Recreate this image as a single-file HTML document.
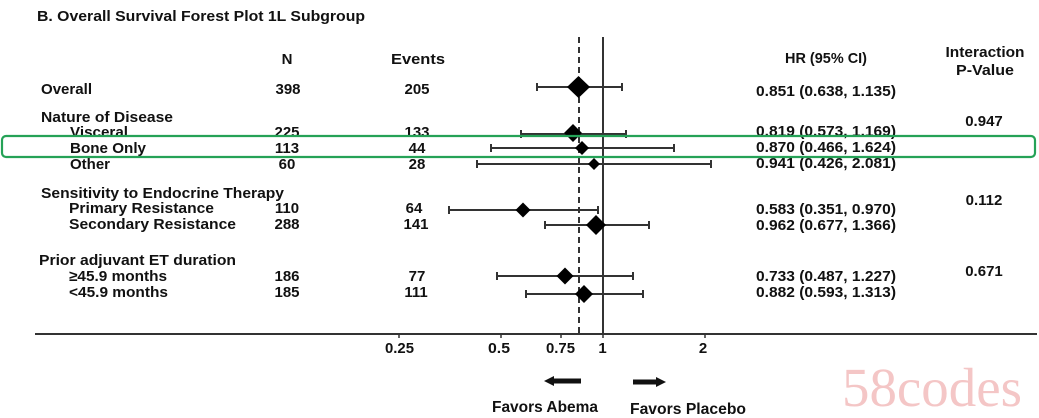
<!DOCTYPE html>
<html>
<head>
<meta charset="utf-8">
<style>
  html, body { margin:0; padding:0; background:#fff; }
  svg { display:block; }
  text { font-family: "Liberation Sans", Arial, sans-serif; font-weight: bold; fill:#111; }
  .wm { font-family: "Liberation Serif", "Times New Roman", serif; font-weight: normal; fill:#f4c6c6; }
</style>
</head>
<body>
<svg width="1039" height="418" viewBox="0 0 1039 418" xmlns="http://www.w3.org/2000/svg">
  <rect width="1039" height="418" fill="#fff"/>

  <!-- Title -->
  <text x="37" y="21" font-size="14.5" textLength="328" lengthAdjust="spacingAndGlyphs">B. Overall  Survival Forest Plot 1L Subgroup</text>

  <!-- Headers -->
  <text x="287" y="64" font-size="15" text-anchor="middle">N</text>
  <text x="418" y="64" font-size="15" text-anchor="middle" textLength="54" lengthAdjust="spacingAndGlyphs">Events</text>
  <text x="826" y="63" font-size="15" text-anchor="middle" textLength="82" lengthAdjust="spacingAndGlyphs">HR (95% CI)</text>
  <text x="985" y="57" font-size="15" text-anchor="middle" textLength="79" lengthAdjust="spacingAndGlyphs">Interaction</text>
  <text x="985" y="75" font-size="15" text-anchor="middle" textLength="58" lengthAdjust="spacingAndGlyphs">P-Value</text>

  <!-- Reference lines -->
  <line x1="603" y1="37" x2="603" y2="334" stroke="#333" stroke-width="2"/>
  <line x1="579" y1="37" x2="579" y2="334" stroke="#333" stroke-width="2" stroke-dasharray="6,4"/>

  <!-- Labels -->
  <g font-size="15">
    <text x="41" y="94" textLength="51" lengthAdjust="spacingAndGlyphs">Overall</text>
    <text x="41" y="122" textLength="132" lengthAdjust="spacingAndGlyphs">Nature of Disease</text>
    <text x="70" y="137" textLength="58" lengthAdjust="spacingAndGlyphs">Visceral</text>
    <text x="70" y="153" textLength="76" lengthAdjust="spacingAndGlyphs">Bone Only</text>
    <text x="70" y="169" textLength="40" lengthAdjust="spacingAndGlyphs">Other</text>
    <text x="41" y="198" textLength="243" lengthAdjust="spacingAndGlyphs">Sensitivity to Endocrine Therapy</text>
    <text x="69" y="213" textLength="145" lengthAdjust="spacingAndGlyphs">Primary Resistance</text>
    <text x="69" y="229" textLength="167" lengthAdjust="spacingAndGlyphs">Secondary Resistance</text>
    <text x="39" y="265" textLength="197" lengthAdjust="spacingAndGlyphs">Prior adjuvant ET duration</text>
    <text x="69" y="281" textLength="98" lengthAdjust="spacingAndGlyphs">≥45.9 months</text>
    <text x="69" y="297" textLength="99" lengthAdjust="spacingAndGlyphs">&lt;45.9 months</text>
  </g>

  <!-- N column -->
  <g font-size="15" text-anchor="middle">
    <text x="288" y="94">398</text>
    <text x="287" y="137">225</text>
    <text x="287" y="153">113</text>
    <text x="287" y="169">60</text>
    <text x="287" y="213">110</text>
    <text x="287" y="229">288</text>
    <text x="287" y="281">186</text>
    <text x="287" y="297">185</text>
  </g>

  <!-- Events column -->
  <g font-size="15" text-anchor="middle">
    <text x="417" y="94">205</text>
    <text x="417" y="137">133</text>
    <text x="417" y="153">44</text>
    <text x="417" y="169">28</text>
    <text x="414" y="213">64</text>
    <text x="416" y="229">141</text>
    <text x="417" y="281">77</text>
    <text x="416" y="297">111</text>
  </g>

  <!-- HR column -->
  <g font-size="15">
    <text x="756" y="96" textLength="140" lengthAdjust="spacingAndGlyphs">0.851 (0.638, 1.135)</text>
    <text x="756" y="136" textLength="140" lengthAdjust="spacingAndGlyphs">0.819 (0.573, 1.169)</text>
    <text x="756" y="152" textLength="140" lengthAdjust="spacingAndGlyphs">0.870 (0.466, 1.624)</text>
    <text x="756" y="168" textLength="140" lengthAdjust="spacingAndGlyphs">0.941 (0.426, 2.081)</text>
    <text x="756" y="214" textLength="140" lengthAdjust="spacingAndGlyphs">0.583 (0.351, 0.970)</text>
    <text x="756" y="230" textLength="140" lengthAdjust="spacingAndGlyphs">0.962 (0.677, 1.366)</text>
    <text x="756" y="281" textLength="140" lengthAdjust="spacingAndGlyphs">0.733 (0.487, 1.227)</text>
    <text x="756" y="297" textLength="140" lengthAdjust="spacingAndGlyphs">0.882 (0.593, 1.313)</text>
  </g>

  <!-- P values -->
  <g font-size="15" text-anchor="middle">
    <text x="984" y="126">0.947</text>
    <text x="984" y="205">0.112</text>
    <text x="984" y="276">0.671</text>
  </g>

  <!-- CI lines -->
  <g stroke="#333" stroke-width="2">
    <line x1="537" y1="87" x2="622" y2="87"/>
    <line x1="537" y1="83" x2="537" y2="91"/><line x1="622" y1="83" x2="622" y2="91"/>

    <line x1="521" y1="134" x2="626" y2="134"/>
    <line x1="521" y1="130" x2="521" y2="138"/><line x1="626" y1="130" x2="626" y2="138"/>

    <line x1="491" y1="148" x2="674" y2="148"/>
    <line x1="491" y1="144" x2="491" y2="152"/><line x1="674" y1="144" x2="674" y2="152"/>

    <line x1="477" y1="164" x2="711" y2="164"/>
    <line x1="477" y1="160" x2="477" y2="168"/><line x1="711" y1="160" x2="711" y2="168"/>

    <line x1="449" y1="210" x2="598" y2="210"/>
    <line x1="449" y1="206" x2="449" y2="214"/><line x1="598" y1="206" x2="598" y2="214"/>

    <line x1="545" y1="225" x2="649" y2="225"/>
    <line x1="545" y1="221" x2="545" y2="229"/><line x1="649" y1="221" x2="649" y2="229"/>

    <line x1="497" y1="276" x2="633" y2="276"/>
    <line x1="497" y1="272" x2="497" y2="280"/><line x1="633" y1="272" x2="633" y2="280"/>

    <line x1="526" y1="294" x2="643" y2="294"/>
    <line x1="526" y1="290" x2="526" y2="298"/><line x1="643" y1="290" x2="643" y2="298"/>
  </g>

  <!-- Diamonds -->
  <g fill="#000">
    <polygon points="578.5,76 590,87 578.5,98 567,87"/>
    <polygon points="573,124 582,133 573,142 564,133"/>
    <polygon points="582,141 589,148 582,155 575,148"/>
    <polygon points="594,158 600,164 594,170 588,164"/>
    <polygon points="523,202.5 530.5,210 523,217.5 515.5,210"/>
    <polygon points="596,215 606,225 596,235 586,225"/>
    <polygon points="565,267.5 573.5,276 565,284.5 556.5,276"/>
    <polygon points="584,285 593,294 584,303 575,294"/>
  </g>

  <!-- Green highlight box -->
  <rect x="2" y="136" width="1033" height="21" rx="4" ry="4" fill="none" stroke="#25a257" stroke-width="2.2"/>

  <!-- Axis -->
  <line x1="35" y1="334" x2="1037" y2="334" stroke="#333" stroke-width="2"/>
  <g stroke="#333" stroke-width="1.5">
    <line x1="399" y1="334" x2="399" y2="338"/>
    <line x1="501" y1="334" x2="501" y2="338"/>
    <line x1="561" y1="334" x2="561" y2="338"/>
    <line x1="603" y1="334" x2="603" y2="338"/>
    <line x1="705" y1="334" x2="705" y2="338"/>
  </g>
  <g font-size="15" text-anchor="middle">
    <text x="399.5" y="353" textLength="29" lengthAdjust="spacingAndGlyphs">0.25</text>
    <text x="499" y="353" textLength="22" lengthAdjust="spacingAndGlyphs">0.5</text>
    <text x="560.5" y="353" textLength="29" lengthAdjust="spacingAndGlyphs">0.75</text>
    <text x="602.5" y="353">1</text>
    <text x="703" y="353">2</text>
  </g>

  <!-- Arrows -->
  <rect x="553" y="378.5" width="28" height="5" fill="#111"/>
  <polygon points="544,381 554,376 554,386" fill="#111"/>
  <rect x="633" y="379.5" width="25" height="5" fill="#111"/>
  <polygon points="666,382 656,377 656,387" fill="#111"/>

  <text x="492" y="412" font-size="16" textLength="106" lengthAdjust="spacingAndGlyphs">Favors Abema</text>
  <text x="630" y="414" font-size="16" textLength="116" lengthAdjust="spacingAndGlyphs">Favors Placebo</text>

  <!-- Watermark -->
  <text class="wm" x="842" y="406" font-size="55" textLength="180" lengthAdjust="spacingAndGlyphs">58codes</text>
</svg>
</body>
</html>
